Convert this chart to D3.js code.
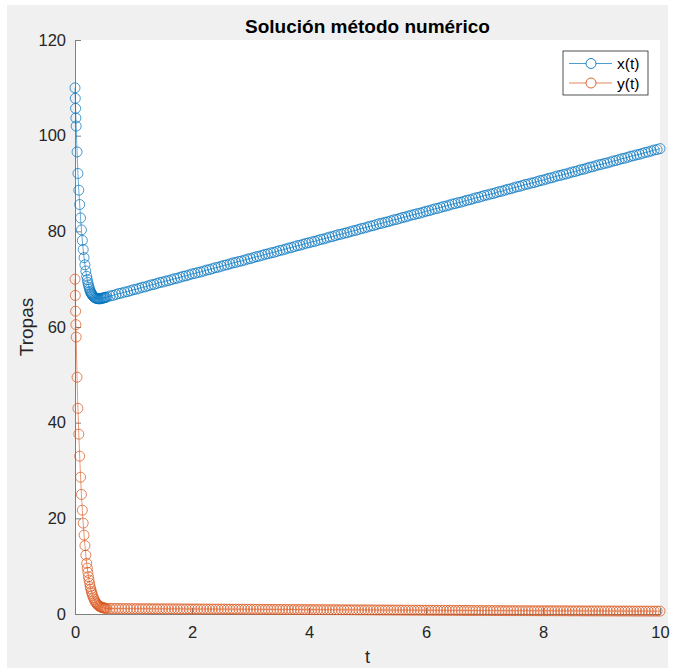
<!DOCTYPE html>
<html>
<head>
<meta charset="utf-8">
<script src="https://cdn.jsdelivr.net/npm/d3@7"></script>
<style>
  html, body { margin: 0; padding: 0; background: #ffffff; }
  svg { display: block; font-family: "Liberation Sans", Arial, Helvetica, sans-serif; }
</style>
</head>
<body>
<svg id="chart" width="673" height="668"></svg>
<script>
// Solver output: times and the two state variables
const tEarly = [0, 0.005, 0.01, 0.015, 0.02, 0.035, 0.05, 0.065, 0.08, 0.095, 0.11, 0.125, 0.14,
  0.155, 0.17, 0.185, 0.2, 0.21, 0.22, 0.23, 0.24, 0.25, 0.26, 0.27, 0.28, 0.29, 0.30, 0.315,
  0.33, 0.345, 0.36, 0.375, 0.39, 0.405, 0.42, 0.435, 0.45, 0.465, 0.48, 0.495, 0.51, 0.525];
const xEarly = [110, 107.8, 105.7, 103.7, 102.0, 96.6, 92.1, 88.6, 85.6, 82.8, 80.3, 78.1, 76.2,
  74.5, 73.0, 71.7, 70.6, 69.9, 69.3, 68.8, 68.3, 67.9, 67.5, 67.2, 67.0, 66.8, 66.6, 66.4,
  66.2, 66.1, 66.0, 65.95, 65.9, 65.9, 65.9, 65.9, 66.0, 66.0, 66.05, 66.1, 66.15, 66.2];
const yEarly = [70, 66.6, 63.3, 60.5, 57.9, 49.5, 43.0, 37.6, 33.0, 28.6, 25.0, 21.7, 19.0,
  16.5, 14.3, 12.3, 10.6, 9.6, 8.7, 7.8, 7.1, 6.4, 5.7, 5.2, 4.7, 4.3, 3.9, 3.4,
  3.0, 2.6, 2.3, 2.1, 1.9, 1.75, 1.6, 1.5, 1.42, 1.35, 1.3, 1.25, 1.22, 1.2];

const tLate = [0.55,0.6,0.65,0.7,0.75,0.8,0.85,0.9,0.95,1,1.05,1.1,1.15,1.2,1.25,1.3,1.35,1.4,1.45,1.5,
  1.55,1.6,1.65,1.7,1.75,1.8,1.85,1.9,1.95,2,2.05,2.1,2.15,2.2,2.25,2.3,2.35,2.4,2.45,2.5,
  2.55,2.6,2.65,2.7,2.75,2.8,2.85,2.9,2.95,3,3.05,3.1,3.15,3.2,3.25,3.3,3.35,3.4,3.45,3.5,
  3.55,3.6,3.65,3.7,3.75,3.8,3.85,3.9,3.95,4,4.05,4.1,4.15,4.2,4.25,4.3,4.35,4.4,4.45,4.5,
  4.55,4.6,4.65,4.7,4.75,4.8,4.85,4.9,4.95,5,5.05,5.1,5.15,5.2,5.25,5.3,5.35,5.4,5.45,5.5,
  5.55,5.6,5.65,5.7,5.75,5.8,5.85,5.9,5.95,6,6.05,6.1,6.15,6.2,6.25,6.3,6.35,6.4,6.45,6.5,
  6.55,6.6,6.65,6.7,6.75,6.8,6.85,6.9,6.95,7,7.05,7.1,7.15,7.2,7.25,7.3,7.35,7.4,7.45,7.5,
  7.55,7.6,7.65,7.7,7.75,7.8,7.85,7.9,7.95,8,8.05,8.1,8.15,8.2,8.25,8.3,8.35,8.4,8.45,8.5,
  8.55,8.6,8.65,8.7,8.75,8.8,8.85,8.9,8.95,9,9.05,9.1,9.15,9.2,9.25,9.3,9.35,9.4,9.45,9.5,
  9.55,9.6,9.65,9.7,9.75,9.8,9.85,9.9,9.95,10];
const xLate = [66.3,66.5,66.6,66.8,67.0,67.1,67.3,67.4,67.6,67.8,
  67.9,68.1,68.3,68.4,68.6,68.8,68.9,69.1,69.3,69.4,
  69.6,69.7,69.9,70.1,70.2,70.4,70.6,70.7,70.9,71.1,
  71.2,71.4,71.5,71.7,71.9,72.0,72.2,72.4,72.5,72.7,
  72.9,73.0,73.2,73.4,73.5,73.7,73.8,74.0,74.2,74.3,
  74.5,74.7,74.8,75.0,75.2,75.3,75.5,75.6,75.8,76.0,
  76.1,76.3,76.5,76.6,76.8,77.0,77.1,77.3,77.5,77.6,
  77.8,77.9,78.1,78.3,78.4,78.6,78.8,78.9,79.1,79.3,
  79.4,79.6,79.7,79.9,80.1,80.2,80.4,80.6,80.7,80.9,
  81.1,81.2,81.4,81.6,81.7,81.9,82.0,82.2,82.4,82.5,
  82.7,82.9,83.0,83.2,83.4,83.5,83.7,83.8,84.0,84.2,
  84.3,84.5,84.7,84.8,85.0,85.2,85.3,85.5,85.7,85.8,
  86.0,86.1,86.3,86.5,86.6,86.8,87.0,87.1,87.3,87.5,
  87.6,87.8,87.9,88.1,88.3,88.4,88.6,88.8,88.9,89.1,
  89.3,89.4,89.6,89.8,89.9,90.1,90.2,90.4,90.6,90.7,
  90.9,91.1,91.2,91.4,91.6,91.7,91.9,92.0,92.2,92.4,
  92.5,92.7,92.9,93.0,93.2,93.4,93.5,93.7,93.9,94.0,
  94.2,94.3,94.5,94.7,94.8,95.0,95.2,95.3,95.5,95.7,
  95.8,96.0,96.1,96.3,96.5,96.6,96.8,97.0,97.1,97.3];
const yLate = [1.15,1.15,1.14,1.14,1.14,1.13,1.13,1.13,1.12,1.12,
  1.12,1.11,1.11,1.11,1.10,1.10,1.10,1.09,1.09,1.09,
  1.08,1.08,1.08,1.07,1.07,1.07,1.06,1.06,1.06,1.05,
  1.05,1.05,1.04,1.04,1.04,1.03,1.03,1.03,1.02,1.02,
  1.02,1.01,1.01,1.01,1.00,1.00,1.00,0.99,0.99,0.99,
  0.98,0.98,0.98,0.97,0.97,0.97,0.96,0.96,0.96,0.95,
  0.95,0.95,0.94,0.94,0.94,0.93,0.93,0.93,0.92,0.92,
  0.92,0.91,0.91,0.91,0.90,0.90,0.90,0.89,0.89,0.89,
  0.88,0.88,0.88,0.87,0.87,0.87,0.86,0.86,0.86,0.85,
  0.85,0.85,0.84,0.84,0.84,0.83,0.83,0.83,0.82,0.82,
  0.82,0.81,0.81,0.81,0.80,0.80,0.80,0.79,0.79,0.79,
  0.78,0.78,0.78,0.77,0.77,0.77,0.76,0.76,0.76,0.75,
  0.75,0.75,0.74,0.74,0.74,0.73,0.73,0.73,0.72,0.72,
  0.72,0.72,0.71,0.71,0.71,0.71,0.70,0.70,0.70,0.70,
  0.69,0.69,0.69,0.69,0.68,0.68,0.68,0.68,0.67,0.67,
  0.67,0.67,0.67,0.66,0.66,0.66,0.66,0.66,0.65,0.65,
  0.65,0.65,0.65,0.64,0.64,0.64,0.64,0.64,0.63,0.63,
  0.63,0.63,0.63,0.63,0.62,0.62,0.62,0.62,0.62,0.62,
  0.61,0.61,0.61,0.61,0.61,0.61,0.60,0.60,0.60,0.60];

const xTicks = [0, 2, 4, 6, 8, 10];
const yTicks = [0, 20, 40, 60, 80, 100, 120];
const seriesNames = ["x(t)", "y(t)"];
const seriesColors = ["#0072BD", "#D95319"];

const tAll = tEarly.concat(tLate);
const series = [xEarly.concat(xLate), yEarly.concat(yLate)].map((vals, i) => ({
  name: seriesNames[i],
  color: seriesColors[i],
  points: vals.map((v, j) => [tAll[j], v])
}));

const svg = d3.select("#chart");
const H = 668;
const plot = { left: 75, right: 660, top: 40, bottom: 614 };

// figure background and axes area
svg.append("rect").attr("x", 7).attr("y", 5).attr("width", 661).attr("height", H - 5)
  .attr("fill", "#f0f0f0");
svg.append("rect").attr("x", plot.left).attr("y", plot.top)
  .attr("width", plot.right - plot.left).attr("height", plot.bottom - plot.top)
  .attr("fill", "#ffffff");

const x = d3.scaleLinear().domain([0, 10]).range([plot.left, plot.right]);
const y = d3.scaleLinear().domain([0, 120]).range([plot.bottom, plot.top]);

const axisColor = "#262626";
const tickLen = 6;

// axes with inward ticks
const gx = svg.append("g").attr("transform", `translate(0,${plot.bottom})`)
  .call(d3.axisBottom(x).tickValues(xTicks).tickSizeInner(-tickLen).tickSizeOuter(0).tickPadding(12)
    .tickFormat(d3.format("d")));
const gy = svg.append("g").attr("transform", `translate(${plot.left},0)`)
  .call(d3.axisLeft(y).tickValues(yTicks).tickSizeInner(-tickLen).tickSizeOuter(0).tickPadding(9)
    .tickFormat(d3.format("d")));
[gx, gy].forEach(g => {
  g.select(".domain").attr("stroke", "#808080").attr("stroke-width", 1);
  g.selectAll(".tick line").attr("stroke", "#808080").attr("stroke-width", 1);
  g.selectAll(".tick text").attr("fill", axisColor).attr("font-size", 16.5)
    .attr("font-family", "'Liberation Sans', Arial, sans-serif");
});

// series: thin line plus open circle markers
const line = d3.line().x(d => x(d[0])).y(d => y(d[1]));
series.forEach(s => {
  const g = svg.append("g");
  g.append("path").datum(s.points).attr("d", line)
    .attr("fill", "none").attr("stroke", s.color).attr("stroke-width", 0.6);
  g.selectAll("circle").data(s.points).join("circle")
    .attr("cx", d => x(d[0])).attr("cy", d => y(d[1])).attr("r", 5)
    .attr("fill", "none").attr("stroke", s.color).attr("stroke-width", 0.9)
    .attr("stroke-opacity", 0.8);
});

// titles
svg.append("text").attr("x", (plot.left + plot.right) / 2).attr("y", 33)
  .attr("text-anchor", "middle").attr("font-size", 19).attr("font-weight", "bold")
  .attr("fill", "#000").text("Solución método numérico");
svg.append("text").attr("x", (plot.left + plot.right) / 2).attr("y", 663)
  .attr("text-anchor", "middle").attr("font-size", 18).attr("fill", axisColor).text("t");
svg.append("text").attr("transform", `translate(33,${(plot.top + plot.bottom) / 2}) rotate(-90)`)
  .attr("text-anchor", "middle").attr("font-size", 19).attr("fill", axisColor).text("Tropas");

// legend
const lg = svg.append("g").attr("transform", "translate(563,51)");
lg.append("rect").attr("width", 85).attr("height", 44)
  .attr("fill", "#fff").attr("stroke", "#262626").attr("stroke-width", 0.8);
series.forEach((s, i) => {
  const cy = 12.5 + i * 19.5;
  lg.append("line").attr("x1", 6).attr("x2", 49).attr("y1", cy).attr("y2", cy)
    .attr("stroke", s.color).attr("stroke-width", 0.7);
  lg.append("circle").attr("cx", 28).attr("cy", cy).attr("r", 5)
    .attr("fill", "#fff").attr("stroke", s.color).attr("stroke-width", 0.9);
  lg.append("text").attr("x", 54).attr("y", cy + 5.5).attr("font-size", 15.5)
    .attr("fill", "#000").text(s.name);
});
</script>
</body>
</html>
